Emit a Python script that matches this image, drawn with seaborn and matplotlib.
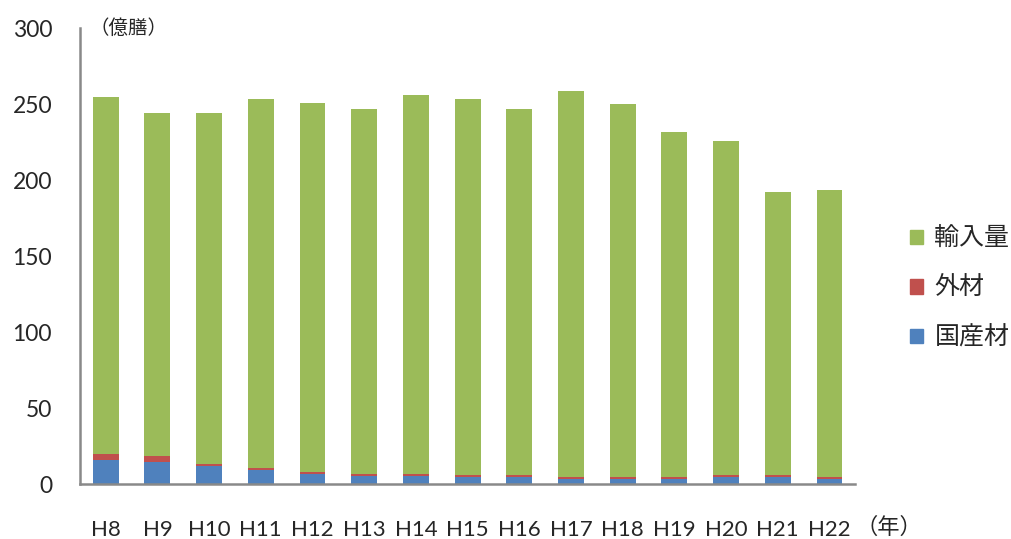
import matplotlib
matplotlib.use('Agg')
import matplotlib.pyplot as plt
import seaborn as sns
import pandas as pd
import numpy as np
from matplotlib.patches import Patch

# data (億膳)
years = ['H8', 'H9', 'H10', 'H11', 'H12', 'H13', 'H14', 'H15', 'H16',
         'H17', 'H18', 'H19', 'H20', 'H21', 'H22']
totals = [254.5, 244, 244, 253, 251, 247, 256, 253, 247, 258.5, 250, 231.5, 226, 192, 193.5]
domestic = [16, 14.7, 12, 9.4, 6.8, 5.5, 5.5, 4.4, 4.6, 3.3, 3.3, 3.3, 4.6, 4.6, 3.3]
foreign = [4, 3.9, 1.4, 1.3, 1.3, 1.3, 1.3, 1.4, 1.5, 1.5, 1.5, 1.5, 1.5, 1.5, 1.5]

df = pd.DataFrame({'year': years, 'total': totals,
                   'domestic': domestic, 'foreign': foreign})
df['dom_for'] = df['domestic'] + df['foreign']

sns.set_style('white')
plt.rcParams['font.family'] = ['Lato', 'Noto Sans CJK JP', 'DejaVu Sans']

c_imp = '#9BBB59'
c_for = '#C0504D'
c_dom = '#4F81BD'
gray = '#898989'

fig = plt.figure(figsize=(10.11, 5.39), dpi=100)
ax = fig.add_axes([0.079, 0.102, 0.767, 0.846])

# stacked bars drawn as overlapping cumulative heights
for col, c in [('total', c_imp), ('dom_for', c_for), ('domestic', c_dom)]:
    sns.barplot(data=df, x='year', y=col, color=c, width=0.5,
                saturation=1, linewidth=0, edgecolor='none', ax=ax)

n = len(years)
ax.set_xlim(-0.5, n - 0.5)
ax.set_ylim(0, 300)
ax.set_yticks(np.arange(0, 301, 50))
ax.set_xlabel('')
ax.set_ylabel('')

# ticks at category boundaries, labels centred
ax.set_xticks(np.arange(-0.5, n, 1))
ax.set_xticklabels([])
ax.set_xticks(np.arange(n), minor=True)
ax.set_xticklabels(years, minor=True)
ax.tick_params(axis='x', which='major', length=9, width=1.5, color=gray, direction='out')
ax.tick_params(axis='x', which='minor', length=0, pad=26, labelsize=16)
ax.tick_params(axis='y', length=7, width=1.5, color=gray, direction='out',
               pad=13, labelsize=16.5)

for s in ['top', 'right']:
    ax.spines[s].set_visible(False)
for s in ['left', 'bottom']:
    ax.spines[s].set_color(gray)
    ax.spines[s].set_linewidth(1.8)

fig.text(0.089, 0.948, '（億膳）', fontsize=14, va='center')
fig.text(0.846, 0.022, '（年）', fontsize=16, va='center')

handles = [Patch(color=c_imp, label='輸入量'),
           Patch(color=c_for, label='外材'),
           Patch(color=c_dom, label='国産材')]
fig.legend(handles=handles, loc='center left', bbox_to_anchor=(0.878, 0.466),
           frameon=False, fontsize=18, handlelength=0.52, handleheight=0.52,
           labelspacing=1.05, handletextpad=0.45)

fig.savefig('out.png', dpi=100)
